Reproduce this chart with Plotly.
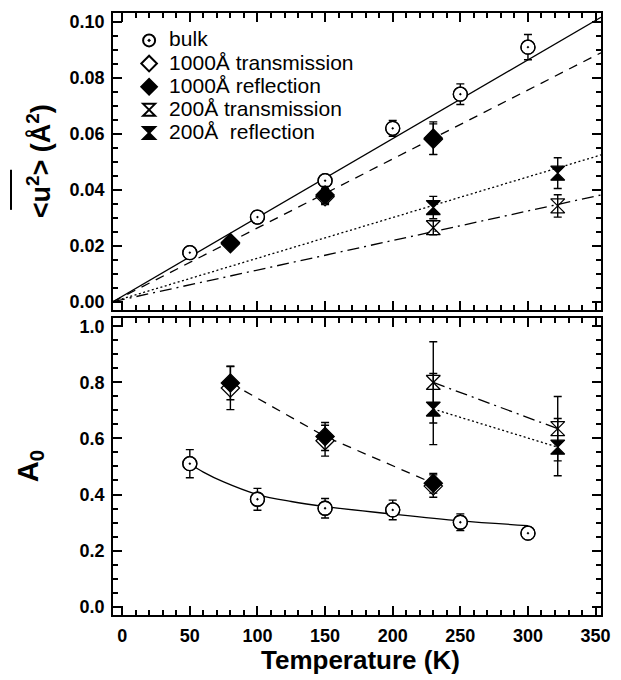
import plotly.graph_objects as go

# ---------------- data ----------------
# top panel: mean square displacement <u^2> (Å^2)
T_bulk = [50, 100, 150, 200, 250, 300]
u2_bulk = [0.0175, 0.0302, 0.0432, 0.0619, 0.0741, 0.0909]
u2_bulk_err = [0.0012, 0.0014, 0.0020, 0.0028, 0.0037, 0.0045]

T_1000 = [80, 150, 230]
u2_1000_tr = [0.0207, 0.0375, 0.0580]
u2_1000_tr_err = [0.0015, 0.0028, 0.0055]
u2_1000_re = [0.0211, 0.0381, 0.0584]
u2_1000_re_err = [0.0015, 0.0030, 0.0058]

T_200 = [230, 322]
u2_200_tr = [0.0264, 0.0342]
u2_200_tr_err = [0.0025, 0.0040]
u2_200_re = [0.0336, 0.0459]
u2_200_re_err = [0.0040, 0.0055]

# linear fits drawn in top panel (end points)
T_fit = [-6.8, 354]
fit_bulk = [0.0, 0.1016]
fit_1000 = [0.0, 0.0889]
fit_200_re = [0.0, 0.0524]
fit_200_tr = [0.0, 0.0381]

# bottom panel: A0
A_bulk = [0.51, 0.383, 0.351, 0.345, 0.301, 0.262]
A_bulk_err = [0.050, 0.039, 0.035, 0.035, 0.030, 0.015]
T_bulk_curve = [50, 60, 75, 100, 125, 150, 200, 250, 300]
A_bulk_curve = [0.51, 0.48, 0.445, 0.40, 0.375, 0.357, 0.33, 0.306, 0.289]

A_1000_tr = [0.78, 0.592, 0.430]
A_1000_tr_err = [0.077, 0.055, 0.040]
A_1000_re = [0.798, 0.607, 0.440]
A_1000_re_err = [0.060, 0.050, 0.035]

A_200_tr = [0.800, 0.635]
A_200_tr_err = [0.145, 0.115]
A_200_re = [0.705, 0.569]
A_200_re_err = [0.127, 0.102]

legend_names = ["bulk", "1000Å transmission", "1000Å reflection",
                "200Å transmission", "200Å  reflection"]

x_range = [-6.8, 354]
y_top_range = [-0.003, 0.1031]
y_bot_range = [-0.03, 1.03]

# ---------------- styles ----------------
BLACK = "black"
FONT = "Liberation Sans, Arial, sans-serif"
DASH = "9px,7px"
DOT = "2px,2.5px"
DASHDOT = "12px,5px,2px,5px"
MS = 14
ERR = dict(thickness=1.4, width=4, color=BLACK)


def lg(name):
    return '<span style="font-size:21px">' + name + '</span>'


fig = go.Figure()


def line(x, y, dash, ya, width=1.3, shape="linear"):
    fig.add_trace(go.Scatter(x=x, y=y, mode="lines", showlegend=False,
                             line=dict(color=BLACK, width=width, dash=dash, shape=shape),
                             xaxis="x2" if ya == "y2" else "x", yaxis=ya,
                             hoverinfo="skip"))


def pts(x, y, err, symbol, ya, name=None, fill=BLACK, legend=False, size=MS):
    fig.add_trace(go.Scatter(
        x=x, y=y, mode="markers", name=name, showlegend=legend,
        error_y=dict(type="data", array=err, visible=err is not None, **ERR),
        marker=dict(symbol=symbol, size=size, color=fill,
                    line=dict(color=BLACK, width=1.3)),
        xaxis="x2" if ya == "y2" else "x", yaxis=ya))


# ---- top panel ----
line(T_fit, fit_bulk, "solid", "y2")
line(T_fit, fit_1000, DASH, "y2")
line(T_fit, fit_200_re, DOT, "y2")
line(T_fit, fit_200_tr, DASHDOT, "y2")

pts(T_bulk, u2_bulk, u2_bulk_err, "circle", "y2", fill="white")
pts(T_bulk, u2_bulk, None, "circle-open-dot", "y2", name=lg(legend_names[0]), legend=True)
pts(T_1000, u2_1000_tr, u2_1000_tr_err, "diamond", "y2", name=lg(legend_names[1]),
    fill="white", legend=True)
pts(T_1000, u2_1000_re, u2_1000_re_err, "diamond", "y2", name=lg(legend_names[2]), legend=True)
pts(T_200, u2_200_tr, u2_200_tr_err, "hourglass-open", "y2", name=lg(legend_names[3]),
    legend=True)
pts(T_200, u2_200_re, u2_200_re_err, "hourglass", "y2", name=lg(legend_names[4]), legend=True)

# ---- bottom panel ----
line(T_bulk_curve, A_bulk_curve, "solid", "y", shape="spline")
line(T_1000, A_1000_re, DASH, "y")
line(T_200, A_200_tr, DASHDOT, "y")
line(T_200, A_200_re, DOT, "y")

pts(T_bulk, A_bulk, A_bulk_err, "circle", "y", fill="white")
pts(T_bulk, A_bulk, None, "circle-open-dot", "y")
pts(T_1000, A_1000_tr, A_1000_tr_err, "diamond", "y", fill="white")
pts(T_1000, A_1000_re, A_1000_re_err, "diamond", "y")
pts(T_200, A_200_tr, A_200_tr_err, "hourglass-open", "y")
pts(T_200, A_200_re, A_200_re_err, "hourglass", "y")

# ---------------- layout ----------------
tickfont = dict(family=FONT, size=18, color=BLACK, weight="bold")
common_axis = dict(showline=True, linewidth=1.8, linecolor=BLACK, mirror="allticks",
                   ticks="inside", ticklen=9, tickwidth=2, tickcolor=BLACK,
                   showgrid=False, zeroline=False, tickfont=tickfont)


def minor(step):
    return dict(dtick=step, ticklen=5, tickwidth=2, tickcolor=BLACK, ticks="inside")


fig.update_layout(
    width=621, height=680,
    margin=dict(l=113, r=10, t=13, b=65),
    paper_bgcolor="white", plot_bgcolor="white",
    font=dict(family=FONT, color=BLACK),
    showlegend=True,
    legend=dict(x=0.033, y=0.982, xanchor="left", yanchor="top",
                bgcolor="rgba(0,0,0,0)", borderwidth=0, itemsizing="constant",
                itemwidth=30, tracegroupgap=0,
                font=dict(family=FONT, size=15.5, color=BLACK)),
    xaxis=dict(domain=[0, 1], anchor="y", range=x_range, tick0=0, dtick=50,
               minor=minor(10), ticklabelstandoff=3, **common_axis),
    xaxis2=dict(domain=[0, 1], anchor="y2", range=x_range, tick0=0, dtick=50,
                showticklabels=False, minor=minor(10), **common_axis),
    yaxis=dict(domain=[0, 0.4934], anchor="x", range=y_bot_range, tick0=0, dtick=0.2,
               tickformat=".1f", ticklabelstandoff=3, minor=minor(0.05), **common_axis),
    yaxis2=dict(domain=[0.5066, 1], anchor="x2", range=y_top_range, tick0=0, dtick=0.02,
                tickformat=".2f", ticklabelstandoff=3, minor=minor(0.005), **common_axis),
)

# overline over <u^2> in the rotated y-axis title
fig.add_shape(type="line", xref="paper", yref="paper",
              x0=-0.209, x1=-0.209, y0=0.673, y1=0.7396,
              line=dict(color=BLACK, width=2))

# ---- axis titles ----
fig.add_annotation(text="<b>Temperature (K)</b>", xref="paper", yref="paper",
                   x=0.508, y=-0.0748, xanchor="center", yanchor="middle", showarrow=False,
                   font=dict(family=FONT, size=26, color=BLACK))
fig.add_annotation(text="<b>&lt;u<sup>2</sup>&gt; (Å<sup>2</sup>)</b>", xref="paper", yref="paper",
                   x=-0.1526, y=0.7529, xanchor="center", yanchor="middle", showarrow=False,
                   textangle=-90, font=dict(family=FONT, size=27, color=BLACK))
fig.add_annotation(text="<b>A<sub>0</sub></b>", xref="paper", yref="paper",
                   x=-0.1687, y=0.2467, xanchor="center", yanchor="middle", showarrow=False,
                   textangle=-90, font=dict(family=FONT, size=29, color=BLACK))

fig.write_html("out.html", config={"displayModeBar": False},
               post_script="document.body.style.margin='0px';"
                           "document.body.style.overflow='hidden';")
